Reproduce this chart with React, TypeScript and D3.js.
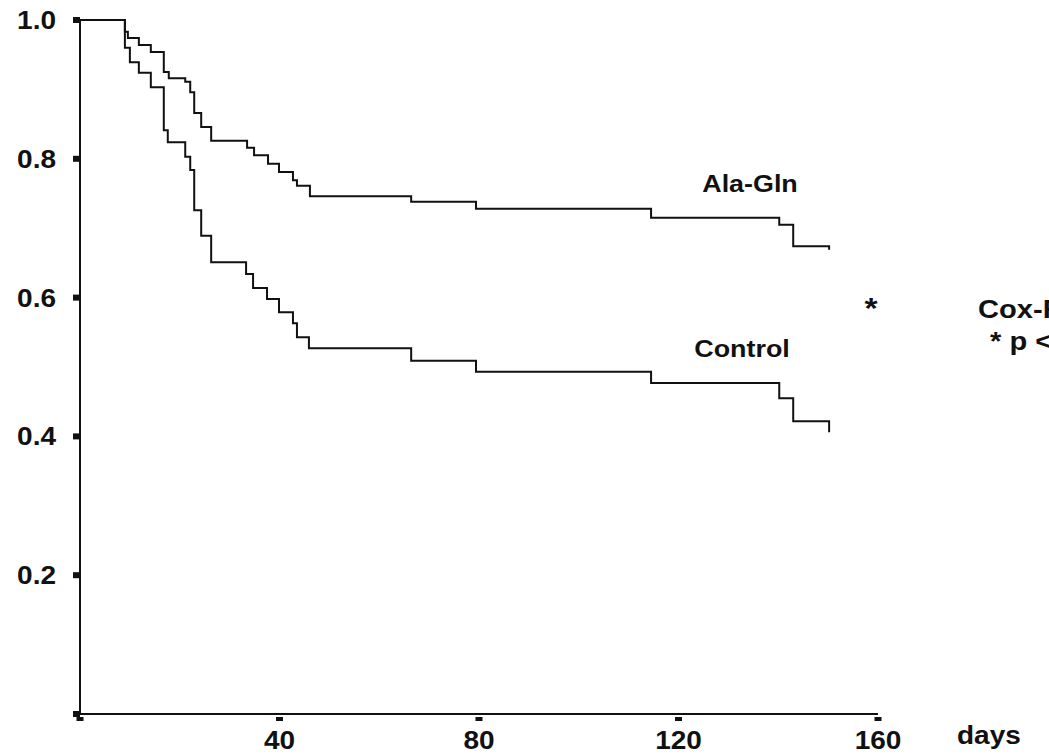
import React, { useEffect, useRef } from "react";
import * as d3 from "d3";

// Kaplan-Meier steps (days, survival)
const alaGlnDays = [0, 9.0, 9.6, 11.8, 14.2, 16.8, 17.8, 21.1, 22.1, 22.9, 24.3, 26.3, 33.5, 34.9, 37.7, 39.9, 42.7, 43.5, 46.1, 66.4, 79.4, 114.5, 140.2, 143.0, 150.2];
const alaGlnSurv = [1, 0.983, 0.974, 0.964, 0.954, 0.925, 0.916, 0.911, 0.896, 0.866, 0.846, 0.826, 0.816, 0.805, 0.793, 0.781, 0.769, 0.761, 0.746, 0.738, 0.728, 0.715, 0.705, 0.674, 0.669];

const controlDays = [0, 9.0, 10.0, 11.8, 14.2, 16.8, 17.6, 21.1, 22.1, 22.9, 24.3, 26.3, 33.3, 34.7, 37.5, 39.9, 42.7, 43.5, 45.9, 66.4, 79.4, 114.5, 140.2, 143.0, 150.2];
const controlSurv = [1, 0.96, 0.939, 0.924, 0.903, 0.841, 0.824, 0.803, 0.784, 0.726, 0.689, 0.651, 0.634, 0.614, 0.598, 0.579, 0.563, 0.543, 0.527, 0.509, 0.493, 0.477, 0.455, 0.422, 0.406];

const xTicks = [0, 40, 80, 120, 160];
const xTickLabels = ["", "40", "80", "120", "160"];
const yTicks = [0, 0.2, 0.4, 0.6, 0.8, 1.0];
const yTickLabels = ["", "0.2", "0.4", "0.6", "0.8", "1.0"];

const App = () => {
  const ref = useRef<SVGSVGElement>(null);

  useEffect(() => {
    const svg = d3.select(ref.current);
    svg.selectAll("*").remove();

    const x = d3.scaleLinear().domain([0, 160]).range([80, 878]);
    const y = d3.scaleLinear().domain([0, 1]).range([714, 20]);

    const font = "'Liberation Sans', Arial, sans-serif";
    const ink = "#111";

    // the scan is a bit wider than tall, so stretch the text a little
    const label = (tx: number, ty: number, str: string, size: number, anchor: string) =>
      svg.append("text")
        .attr("transform", `translate(${tx},${ty}) scale(1.12,1)`)
        .attr("text-anchor", anchor)
        .attr("font-family", font)
        .attr("font-weight", "bold")
        .attr("font-size", size)
        .attr("fill", ink)
        .text(str);

    // axes
    svg.append("line")
      .attr("x1", x(0)).attr("x2", x(0))
      .attr("y1", y(1)).attr("y2", y(0))
      .attr("stroke", ink).attr("stroke-width", 2);
    svg.append("line")
      .attr("x1", x(0) - 1).attr("x2", x(160))
      .attr("y1", y(0)).attr("y2", y(0))
      .attr("stroke", ink).attr("stroke-width", 2);

    yTicks.forEach((t, i) => {
      svg.append("rect")
        .attr("x", x(0) - 7).attr("y", y(t) - 3)
        .attr("width", 7).attr("height", 6)
        .attr("fill", ink);
      if (yTickLabels[i]) label(x(0) - 24, y(t) + 9, yTickLabels[i], 25, "end");
    });

    xTicks.forEach((t, i) => {
      svg.append("rect")
        .attr("x", x(t) - 3.5).attr("y", y(0) + 3)
        .attr("width", 7).attr("height", 4)
        .attr("fill", ink);
      if (xTickLabels[i]) label(x(t), y(0) + 35, xTickLabels[i], 25, "middle");
    });

    label(957, 744, "days", 25, "start");

    // survival curves
    const line = d3.line<[number, number]>()
      .x(d => x(d[0]))
      .y(d => y(d[1]))
      .curve(d3.curveStepAfter);

    const series = [
      alaGlnDays.map((d, i) => [d, alaGlnSurv[i]] as [number, number]),
      controlDays.map((d, i) => [d, controlSurv[i]] as [number, number]),
    ];

    series.forEach(s => {
      svg.append("path")
        .datum(s)
        .attr("fill", "none")
        .attr("stroke", ink)
        .attr("stroke-width", 2)
        .attr("d", line);
    });

    // annotations
    label(750, 192, "Ala-Gln", 24, "middle");
    label(742, 357, "Control", 24, "middle");
    label(871, 318, "*", 30, "middle");
    label(978, 318, "Cox-Regression", 26, "start");
    label(990, 350, "* p < 0.05", 26, "start");
  }, []);

  return (
    <svg
      ref={ref}
      width={1049}
      height={755}
      style={{ position: "absolute", left: 0, top: 0, background: "#fff" }}
    ></svg>
  );
};

export default App;
